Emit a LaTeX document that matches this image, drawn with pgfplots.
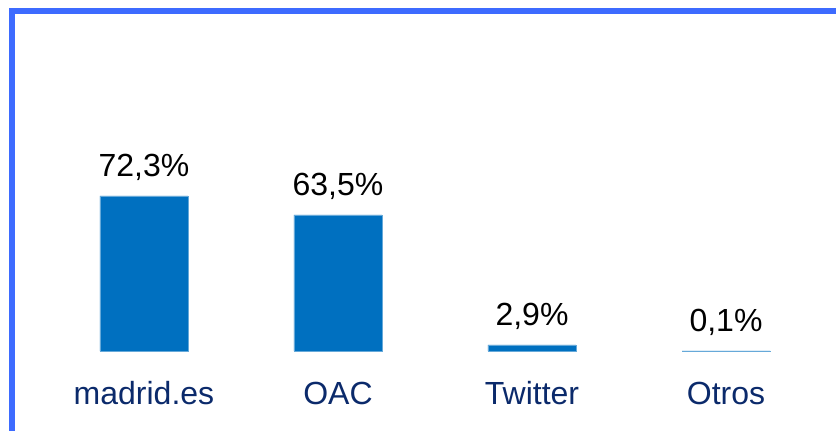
\documentclass[border=0pt]{standalone}
\usepackage{pgfplots}
\pgfplotsset{compat=1.18}
\usepackage{fontspec}
\setmainfont{Liberation Sans}
\definecolor{barblue}{HTML}{0070C0}
\definecolor{catnavy}{HTML}{0B2A6B}
\definecolor{framblue}{HTML}{3D6BFF}
\begin{document}
\begin{tikzpicture}
\begin{axis}[
    at={(0,0)}, anchor=south west,
    scale only axis,
    width=836bp, height=351bp,
    ybar, bar width=88bp,
    xmin=-0.742, xmax=3.567,
    ymin=0, ymax=163.7,
    clip=false,
    axis line style={draw=none},
    tick style={draw=none},
    ytick=\empty,
    xtick={0,1,2,3},
    xticklabels={madrid.es,OAC,Twitter,Otros},
    xticklabel style={anchor=base, yshift=-49bp, text=catnavy,
        font=\fontsize{32bp}{38bp}\selectfont},
    point meta=explicit symbolic,
    nodes near coords,
    every node near coord/.append style={anchor=base, yshift=19bp, text=black,
        font=\fontsize{32bp}{38bp}\selectfont},
]
\addplot[fill=barblue, draw=barblue!60!white, line width=0.4pt] coordinates {
    (0,72.3) [72,3\%]
    (1,63.5) [63,5\%]
    (2,2.9) [2,9\%]
    (3,0.1) [0,1\%]
};
\end{axis}
\begin{scope}
\clip (0,-80bp) rectangle (836bp,351bp);
\draw[framblue, line width=6bp] (12bp,340bp) rectangle (900bp,-150bp);
\end{scope}
\pgfresetboundingbox
\path[use as bounding box] (0,-80bp) rectangle (836bp,351bp);
\end{tikzpicture}
\end{document}
